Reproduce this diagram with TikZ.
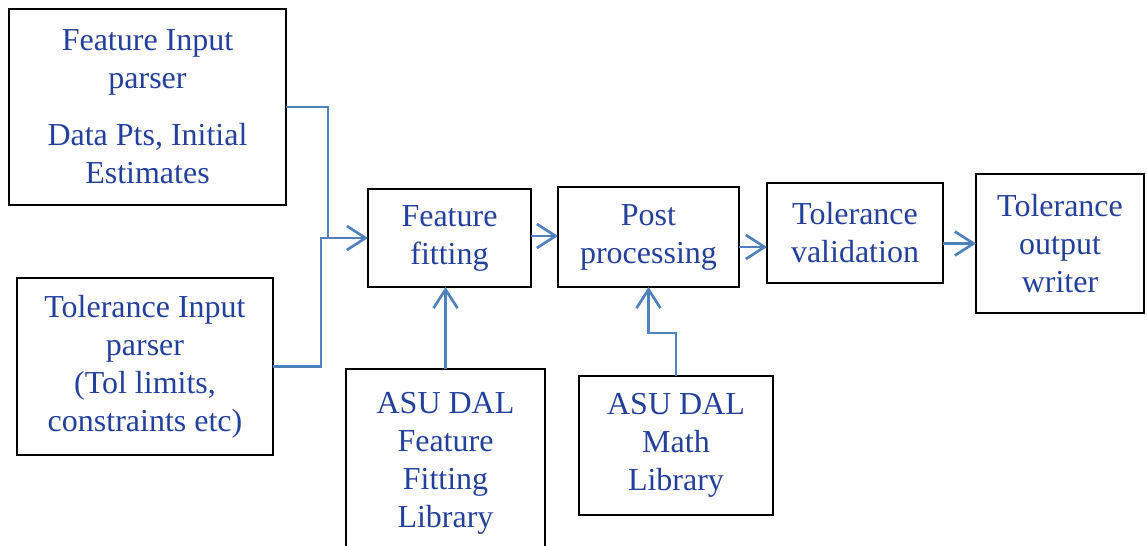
\documentclass[tikz,border=0pt]{standalone}
\usepackage{fontspec}
\setmainfont{Liberation Serif}
\usetikzlibrary{arrows.meta}
\definecolor{txt}{RGB}{35,65,155}
\definecolor{ln}{RGB}{79,129,189}
\begin{document}
\begin{tikzpicture}[x=0.75pt,y=-0.75pt,
  box/.style={draw=black,line width=2pt,inner sep=0pt,outer sep=0pt,align=center,text=txt,font=\fontsize{24}{28.5}\selectfont},
  conn/.style={draw=ln,line width=2pt,-{Straight Barb[length=14pt,width=18pt,line width=2pt]}},
  plainline/.style={draw=ln,line width=2pt}]
\useasboundingbox (0,0) rectangle (1147,546);
\clip (0,0) rectangle (1147,546);
\fill[white] (0,0) rectangle (1147,546);

\node[box,minimum width=207.75pt,minimum height=147pt] (fin) at (147.5,107)
  {Feature Input\\parser\\[14pt]Data Pts, Initial\\Estimates};
\node[box,minimum width=192pt,minimum height=132.75pt] (tin) at (145,366.5)
  {Tolerance Input\\parser\\(Tol limits,\\constraints etc)};
\node[box,minimum width=122.25pt,minimum height=73.5pt] (ff) at (449.5,238)
  {Feature\\fitting};
\node[box,minimum width=135.75pt,minimum height=75pt] (post) at (648.5,237)
  {Post\\processing};
\node[box,minimum width=132pt,minimum height=75pt] (tv) at (855,233)
  {Tolerance\\validation};
\node[box,minimum width=126pt,minimum height=104.25pt] (tw) at (1060,243.5)
  {Tolerance\\output\\writer};
\node[box,minimum width=145.5pt,minimum height=104.25pt] (ml) at (676,445.5)
  {ASU DAL\\Math\\Library};
\node[box,minimum width=149.25pt,minimum height=141pt,anchor=north] (fl) at (445.5,369)
  {ASU DAL\\Feature\\Fitting\\Library};

\coordinate (j1) at (328,238);
\coordinate (j2) at (321,238);
\coordinate (m1) at (676,333);

\draw[conn] (fin.east) -| (j1) -- (ff.west);
\draw[plainline] (tin.east) -| (j2) -- (j1);
\draw[conn] ([yshift=1.5pt]ff.east) -- ([yshift=1.5pt]ff.east -| post.west);
\draw[conn] ([yshift=-7.5pt]post.east) -- ([yshift=-7.5pt]post.east -| tv.west);
\draw[conn] (tv.east |- tw.west) -- (tw.west);
\draw[conn] (fl.north) -- (fl.north |- ff.south);
\draw[conn] (ml.north) -- (m1) -| (post.south);
\end{tikzpicture}
\end{document}
